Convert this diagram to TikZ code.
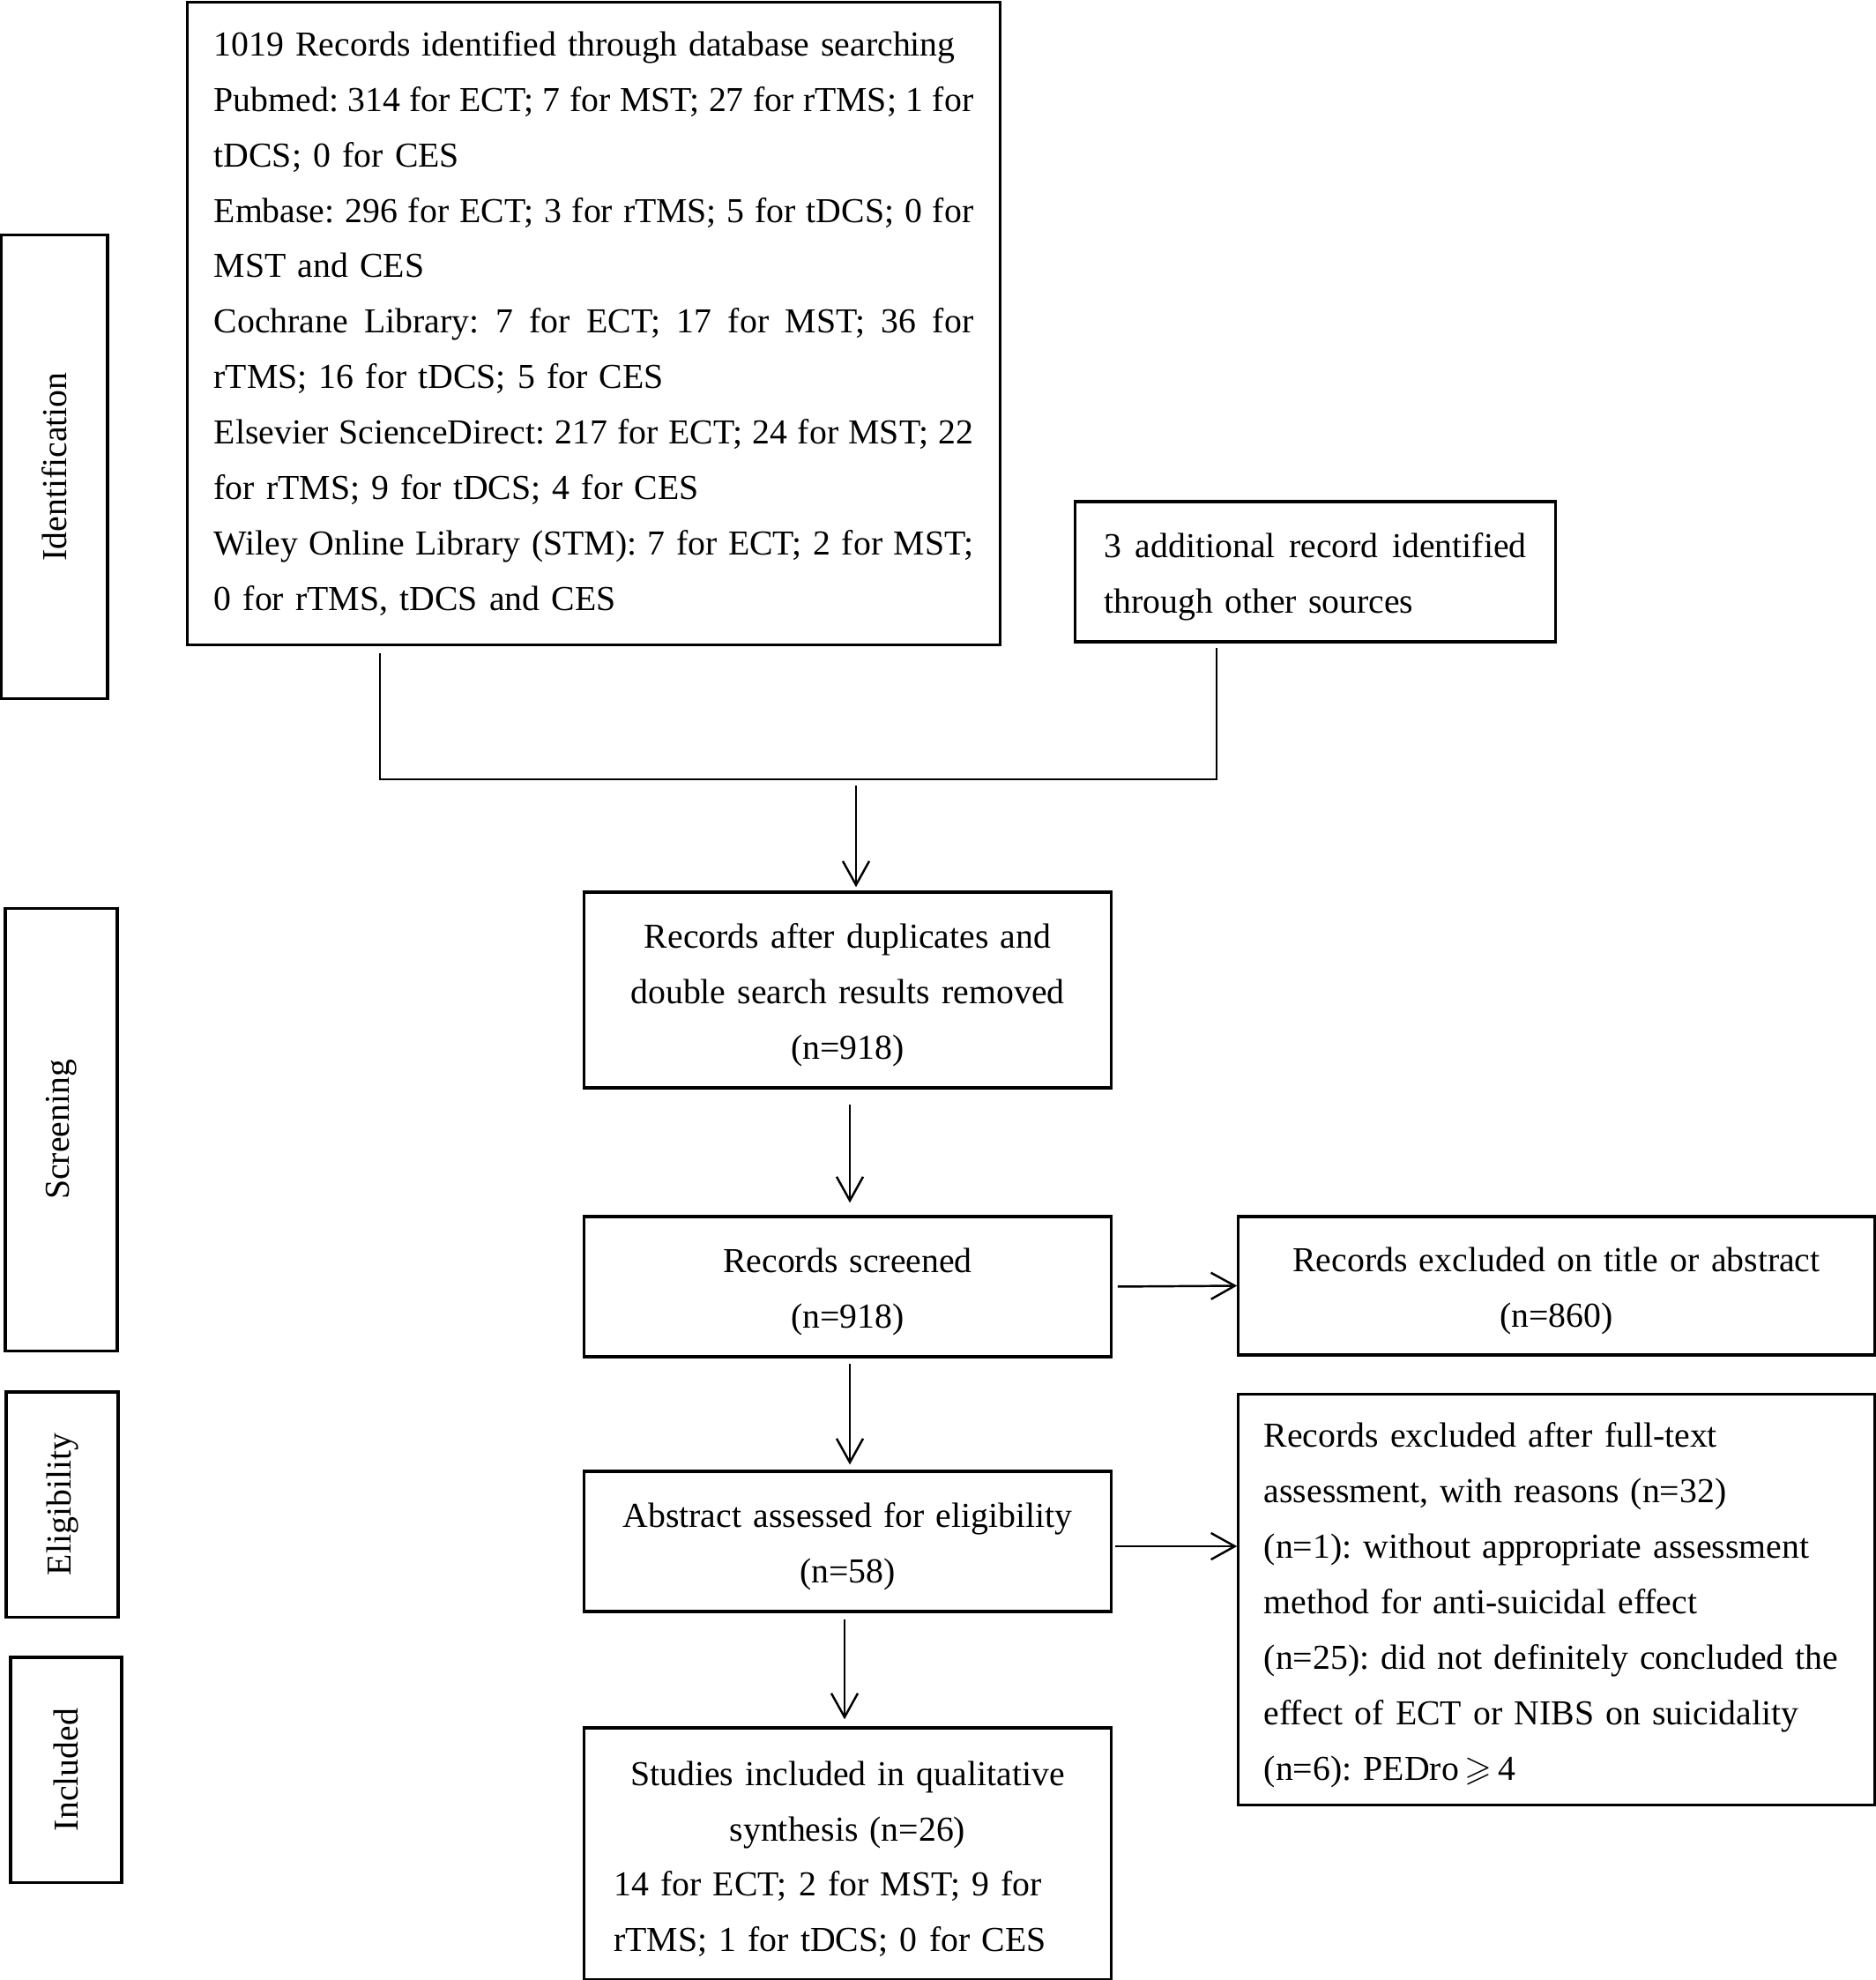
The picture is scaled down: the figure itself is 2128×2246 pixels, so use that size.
\documentclass[tikz,border=0pt]{standalone}
\usepackage{fontspec}
\usepackage{amssymb}
\setmainfont{Liberation Serif}
\usetikzlibrary{arrows.meta}
\newcommand{\jl}[1]{\leavevmode\hbox to \hsize{\spaceskip=0.25em plus 1fil minus 0.13em\relax #1}}
\newcommand{\cl}[1]{\makebox[\hsize][c]{#1}}
\newcommand{\tp}{\rule{0pt}{0.40cm}}
\begin{document}
\frenchspacing
\begin{tikzpicture}[x=0.01cm,y=-0.01cm,
  font=\fontsize{11.3}{17.9}\selectfont\frenchspacing,
  box/.style={draw, line width=0.9pt, inner sep=0pt},
  lbl/.style={draw, line width=0.9pt, inner sep=0pt, rotate=90},
  ln/.style={line width=0.7pt},
  arr/.style={line width=0.7pt, -{Straight Barb[length=0.27cm,width=0.3cm,line width=0.7pt]}}]
\useasboundingbox (0,0) rectangle (2128,2246);

% stage labels
\node[lbl, minimum width=5.25cm, minimum height=1.21cm] (idb) at (61.5,529.5) {Identification};
\node[lbl, minimum width=5.01cm, minimum height=1.27cm] (scb) at (69.5,1281.5) {Screening};
\node[lbl, minimum width=2.55cm, minimum height=1.27cm] (elb) at (70.5,1706.5) {Eligibility};
\node[lbl, minimum width=2.55cm, minimum height=1.26cm] (inb) at (75,2007.5) {Included};

% boxes
\node[box, minimum width=9.21cm, minimum height=7.28cm, text width=8.61cm, align=left] (main) at (673.5,367) {%
1019 Records identified through database searching\\
\jl{Pubmed: 314 for ECT; 7 for MST; 27 for rTMS; 1 for}\\
tDCS; 0 for CES\\
\jl{Embase: 296 for ECT; 3 for rTMS; 5 for tDCS; 0 for}\\
MST and CES\\
\jl{Cochrane Library: 7 for ECT; 17 for MST; 36 for}\\
rTMS; 16 for tDCS; 5 for CES\\
\jl{Elsevier ScienceDirect: 217 for ECT; 24 for MST; 22}\\
for rTMS; 9 for tDCS; 4 for CES\\
\jl{Wiley Online Library (STM): 7 for ECT; 2 for MST;}\\
0 for rTMS, tDCS and CES};

\node[box, minimum width=5.44cm, minimum height=1.59cm, text width=4.79cm, align=left] (add) at (1492,648.5) {%
\jl{\tp 3 additional record identified}\\
through other sources};

\node[box, minimum width=5.97cm, minimum height=2.22cm, text width=5.6cm, align=center] (dup) at (961.5,1123) {%
\tp Records after duplicates and\\ double search results removed\\ (n=918)};

\node[box, minimum width=5.97cm, minimum height=1.59cm, text width=5.6cm, align=center] (scr) at (961.5,1459.5) {%
\tp Records screened\\ (n=918)};

\node[box, minimum width=7.21cm, minimum height=1.57cm, text width=6.8cm, align=center] (exc) at (1765.5,1458.5) {%
\tp Records excluded on title or abstract\\ (n=860)};

\node[box, minimum width=5.97cm, minimum height=1.59cm, text width=5.6cm, align=center] (abs) at (961.5,1748.5) {%
\tp Abstract assessed for eligibility\\ (n=58)};

\node[box, minimum width=7.21cm, minimum height=4.65cm, text width=6.63cm, align=left] (ful) at (1765.5,1814.5) {%
\tp Records excluded after full-text\\
assessment, with reasons (n=32)\\
(n=1): without appropriate assessment\\
method for anti-suicidal effect\\
\mbox{(n=25): did not definitely concluded the}\\
effect of ECT or NIBS on suicidality\\
(n=6): PEDro\,$\geqslant$\,4};

\node[box, minimum width=5.97cm, minimum height=2.85cm, text width=5.3cm, align=left] (stu) at (961.5,2102.5) {%
\cl{\tp Studies included in qualitative}\\
\cl{synthesis (n=26)}\\
14 for ECT; 2 for MST; 9 for\\
rTMS; 1 for tDCS; 0 for CES};

% connectors
\coordinate (jl) at (431,884);
\coordinate (jr) at (1380,884);
\draw[ln, shorten <=0.08cm, shorten >=0.05cm] (main.south -| jl) -- (jl) -- (jr) -- (add.south -| jr);
\coordinate (a0) at (971,891);
\draw[arr, shorten >=0.04cm] (a0) -- (dup.north -| a0);
\draw[arr, shorten <=0.17cm, shorten >=0.14cm] ([xshift=0.025cm]dup.south) -- ([xshift=0.025cm]scr.north);
\draw[arr, shorten <=0.06cm, shorten >=0.06cm] ([xshift=0.025cm]scr.south) -- ([xshift=0.025cm]abs.north);
\draw[arr, shorten <=0.07cm, shorten >=0.08cm] ([xshift=-0.035cm]abs.south) -- ([xshift=-0.035cm]stu.north);
\draw[arr, shorten <=0.06cm] (scr.east) -- (exc.west);
\coordinate (ae) at ([yshift=-0.055cm]abs.east);
\draw[arr, shorten <=0.03cm] (ae) -- (ae -| ful.west);
\end{tikzpicture}
\end{document}
